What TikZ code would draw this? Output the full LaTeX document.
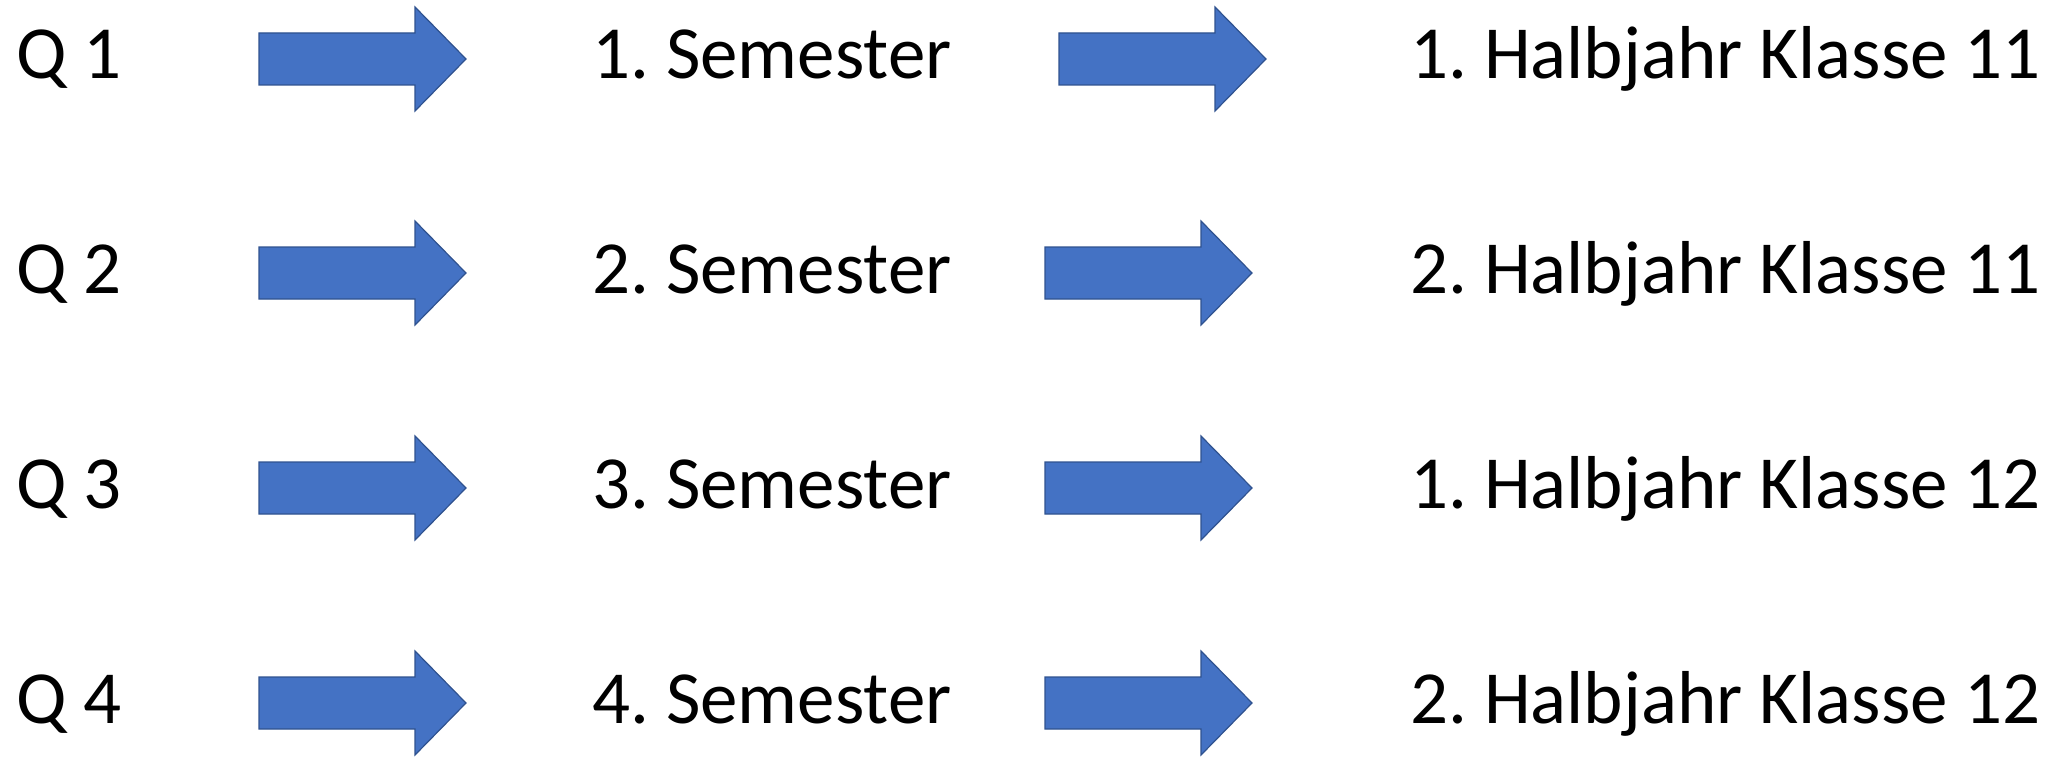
\documentclass[tikz,border=0pt]{standalone}
\usepackage{fontspec}
\setmainfont{Carlito}
\frenchspacing
\definecolor{arrowfill}{HTML}{4472C4}
\definecolor{arrowline}{HTML}{2F528F}
\tikzset{
  blockarrow/.style={fill=arrowfill, draw=arrowline, line width=1.2pt, line join=miter},
  label/.style={anchor=base west, inner sep=0pt, font=\fontsize{75}{90}\selectfont}
}
\begin{document}
\begin{tikzpicture}[x=1pt,y=-1pt]
  \useasboundingbox (0,0) rectangle (2060,757);
  \foreach \i/\y/\xb/\kl/\hj in {1/59/1059/11/1, 2/273/1045/11/2, 3/488/1045/12/1, 4/703/1045/12/2} {
    \node[label] (q\i)   at (16,\y+20)   {Q \i};
    \node[label] (sem\i) at (592,\y+20)  {\i. Semester};
    \node[label] (hj\i)  at (1410,\y+20) {\hj. Halbjahr Klasse \kl};
    % block arrows
    \draw[blockarrow] (259,\y-26) -- (415,\y-26) -- (415,\y-52) -- (466,\y)
      -- (415,\y+52) -- (415,\y+26) -- (259,\y+26) -- cycle;
    \draw[blockarrow] (\xb,\y-26) -- (\xb+156,\y-26) -- (\xb+156,\y-52) -- (\xb+207,\y)
      -- (\xb+156,\y+52) -- (\xb+156,\y+26) -- (\xb,\y+26) -- cycle;
  }
\end{tikzpicture}
\end{document}
